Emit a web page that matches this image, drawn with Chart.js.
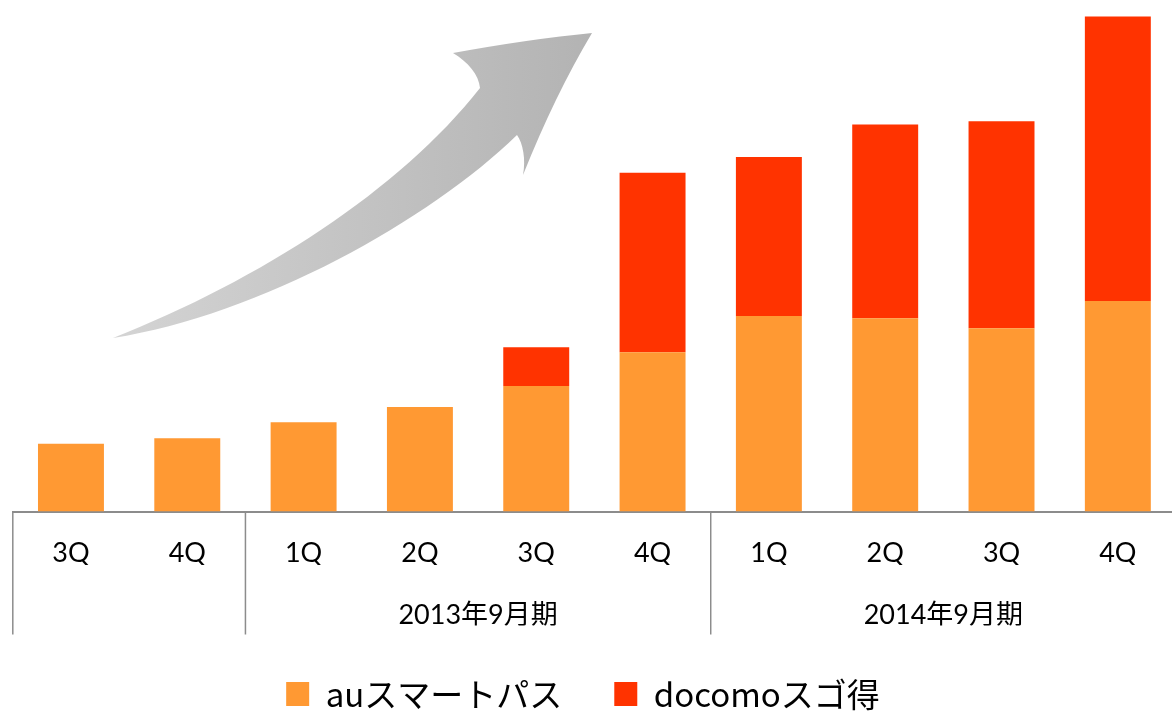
<!DOCTYPE html>
<html>
<head>
<meta charset="utf-8">
<script src="https://cdn.jsdelivr.net/npm/chart.js@4/dist/chart.umd.min.js"></script>
<style>
  html, body { margin: 0; padding: 0; background: #fff; width: 1172px; height: 712px; overflow: hidden; }
  #wrap { position: absolute; left: -10px; top: 0; width: 1186px; height: 712px; }
  canvas { display: block; }
</style>
</head>
<body>
<div id="wrap"><canvas id="c" width="1186" height="712" style="width:1186px;height:712px"></canvas></div>
<script>
// ---- data (arbitrary units) ----
const quarters = ['3Q', '4Q', '1Q', '2Q', '3Q', '4Q', '1Q', '2Q', '3Q', '4Q'];
const auSmartPass = [67.8, 73.2, 89.2, 104.5, 125.5, 159.2, 195.5, 193.2, 183.2, 210.5];
const docomoSugotoku = [null, null, null, null, 38.7, 179.6, 159.0, 193.9, 207.0, 284.5];
const seriesNames = ['auスマートパス', 'docomoスゴ得'];
const groupLabels = ['', '2013年9月期', '2014年9月期'];
const groupStarts = [0, 2, 6];
const groupEnds = [1, 5, 9];
const Y_MAX = 511.5;

// ---- styles ----
const ORANGE = '#ff9933';
const RED = '#ff3300';
const AXIS_GRAY = '#8c8c8c';
const TICK_FONT = { family: "Lato, 'Noto Sans CJK JP', sans-serif", size: 27 };
const LEGEND_FONT = { family: "'Noto Sans CJK JP', 'Noto Sans', sans-serif", size: 33 };
const SHIFT = 10; // canvas is shifted left by this many px

const groupMids = groupStarts.map((s, i) => (s + groupEnds[i]) / 2);

const decor = {
  id: 'decor',
  beforeDatasetsDraw(chart) {
    const ctx = chart.ctx;
    ctx.save();
    ctx.translate(SHIFT, 0);
    const g = ctx.createLinearGradient(113, 0, 592, 0);
    g.addColorStop(0, '#d4d4d4');
    g.addColorStop(1, '#b3b3b3');
    ctx.fillStyle = g;
    ctx.beginPath();
    ctx.moveTo(113, 338);
    ctx.bezierCurveTo(260, 280, 400, 190, 480, 88);
    ctx.bezierCurveTo(479, 75, 468, 62, 453, 53);
    ctx.quadraticCurveTo(530, 39, 592, 33);
    ctx.quadraticCurveTo(555, 95, 523, 175);
    ctx.bezierCurveTo(526, 160, 523, 143, 517, 135);
    ctx.bezierCurveTo(430, 220, 260, 315, 113, 338);
    ctx.closePath();
    ctx.fill();
    ctx.restore();
  },
  afterDraw(chart) {
    const x = chart.scales.x;
    const ctx = chart.ctx;
    const half = (x.getPixelForValue(1) - x.getPixelForValue(0)) / 2;
    ctx.save();
    ctx.strokeStyle = AXIS_GRAY;
    ctx.lineWidth = 1.5;
    groupStarts.forEach(s => {
      const px = x.getPixelForValue(s) - half;
      ctx.beginPath();
      ctx.moveTo(px, x.top);
      ctx.lineTo(px, x.top + 123);
      ctx.stroke();
    });
    ctx.restore();
  }
};

new Chart(document.getElementById('c'), {
  type: 'bar',
  data: {
    labels: quarters,
    datasets: [
      { label: seriesNames[0], data: auSmartPass, backgroundColor: ORANGE, borderWidth: 0, barPercentage: 0.567, categoryPercentage: 1 },
      { label: seriesNames[1], data: docomoSugotoku, backgroundColor: RED, borderWidth: 0, barPercentage: 0.567, categoryPercentage: 1 }
    ]
  },
  options: {
    responsive: false,
    animation: false,
    events: [],
    layout: { padding: { left: 0, right: 0, top: 0, bottom: -8.5 } },
    plugins: {
      tooltip: { enabled: false },
      legend: {
        position: 'bottom',
        labels: {
          boxWidth: 23,
          boxHeight: 24,
          padding: 52,
          color: '#000',
          font: LEGEND_FONT
        }
      }
    },
    scales: {
      x: {
        type: 'category',
        stacked: true,
        offset: true,
        weight: 0,
        grid: { display: false, drawTicks: false, tickLength: 0 },
        border: { display: true, color: AXIS_GRAY, width: 2 },
        ticks: { color: '#000', font: TICK_FONT, padding: 25.3, autoSkip: false, maxRotation: 0, minRotation: 0 },
        afterFit(scale) { scale.height = 53.5; }
      },
      x2: {
        type: 'linear',
        position: 'bottom',
        weight: 1,
        min: -0.5,
        max: quarters.length - 0.5,
        offset: false,
        grid: { display: false, drawTicks: false, tickLength: 0 },
        border: { display: false },
        afterBuildTicks(scale) { scale.ticks = groupMids.map(v => ({ value: v })); },
        ticks: {
          color: '#000',
          font: TICK_FONT,
          padding: 33.8,
          autoSkip: false,
          maxRotation: 0,
          minRotation: 0,
          callback(value) {
            const i = groupMids.indexOf(value);
            return i >= 0 ? groupLabels[i] : '';
          }
        },
        afterFit(scale) { scale.height = 60.5; }
      },
      y: {
        stacked: true,
        min: 0,
        max: Y_MAX,
        display: true,
        grid: { display: false, drawTicks: false },
        border: { display: false },
        ticks: { display: false },
        afterFit(scale) { scale.width = 22.8; }
      }
    }
  },
  plugins: [decor]
});
</script>
</body>
</html>
